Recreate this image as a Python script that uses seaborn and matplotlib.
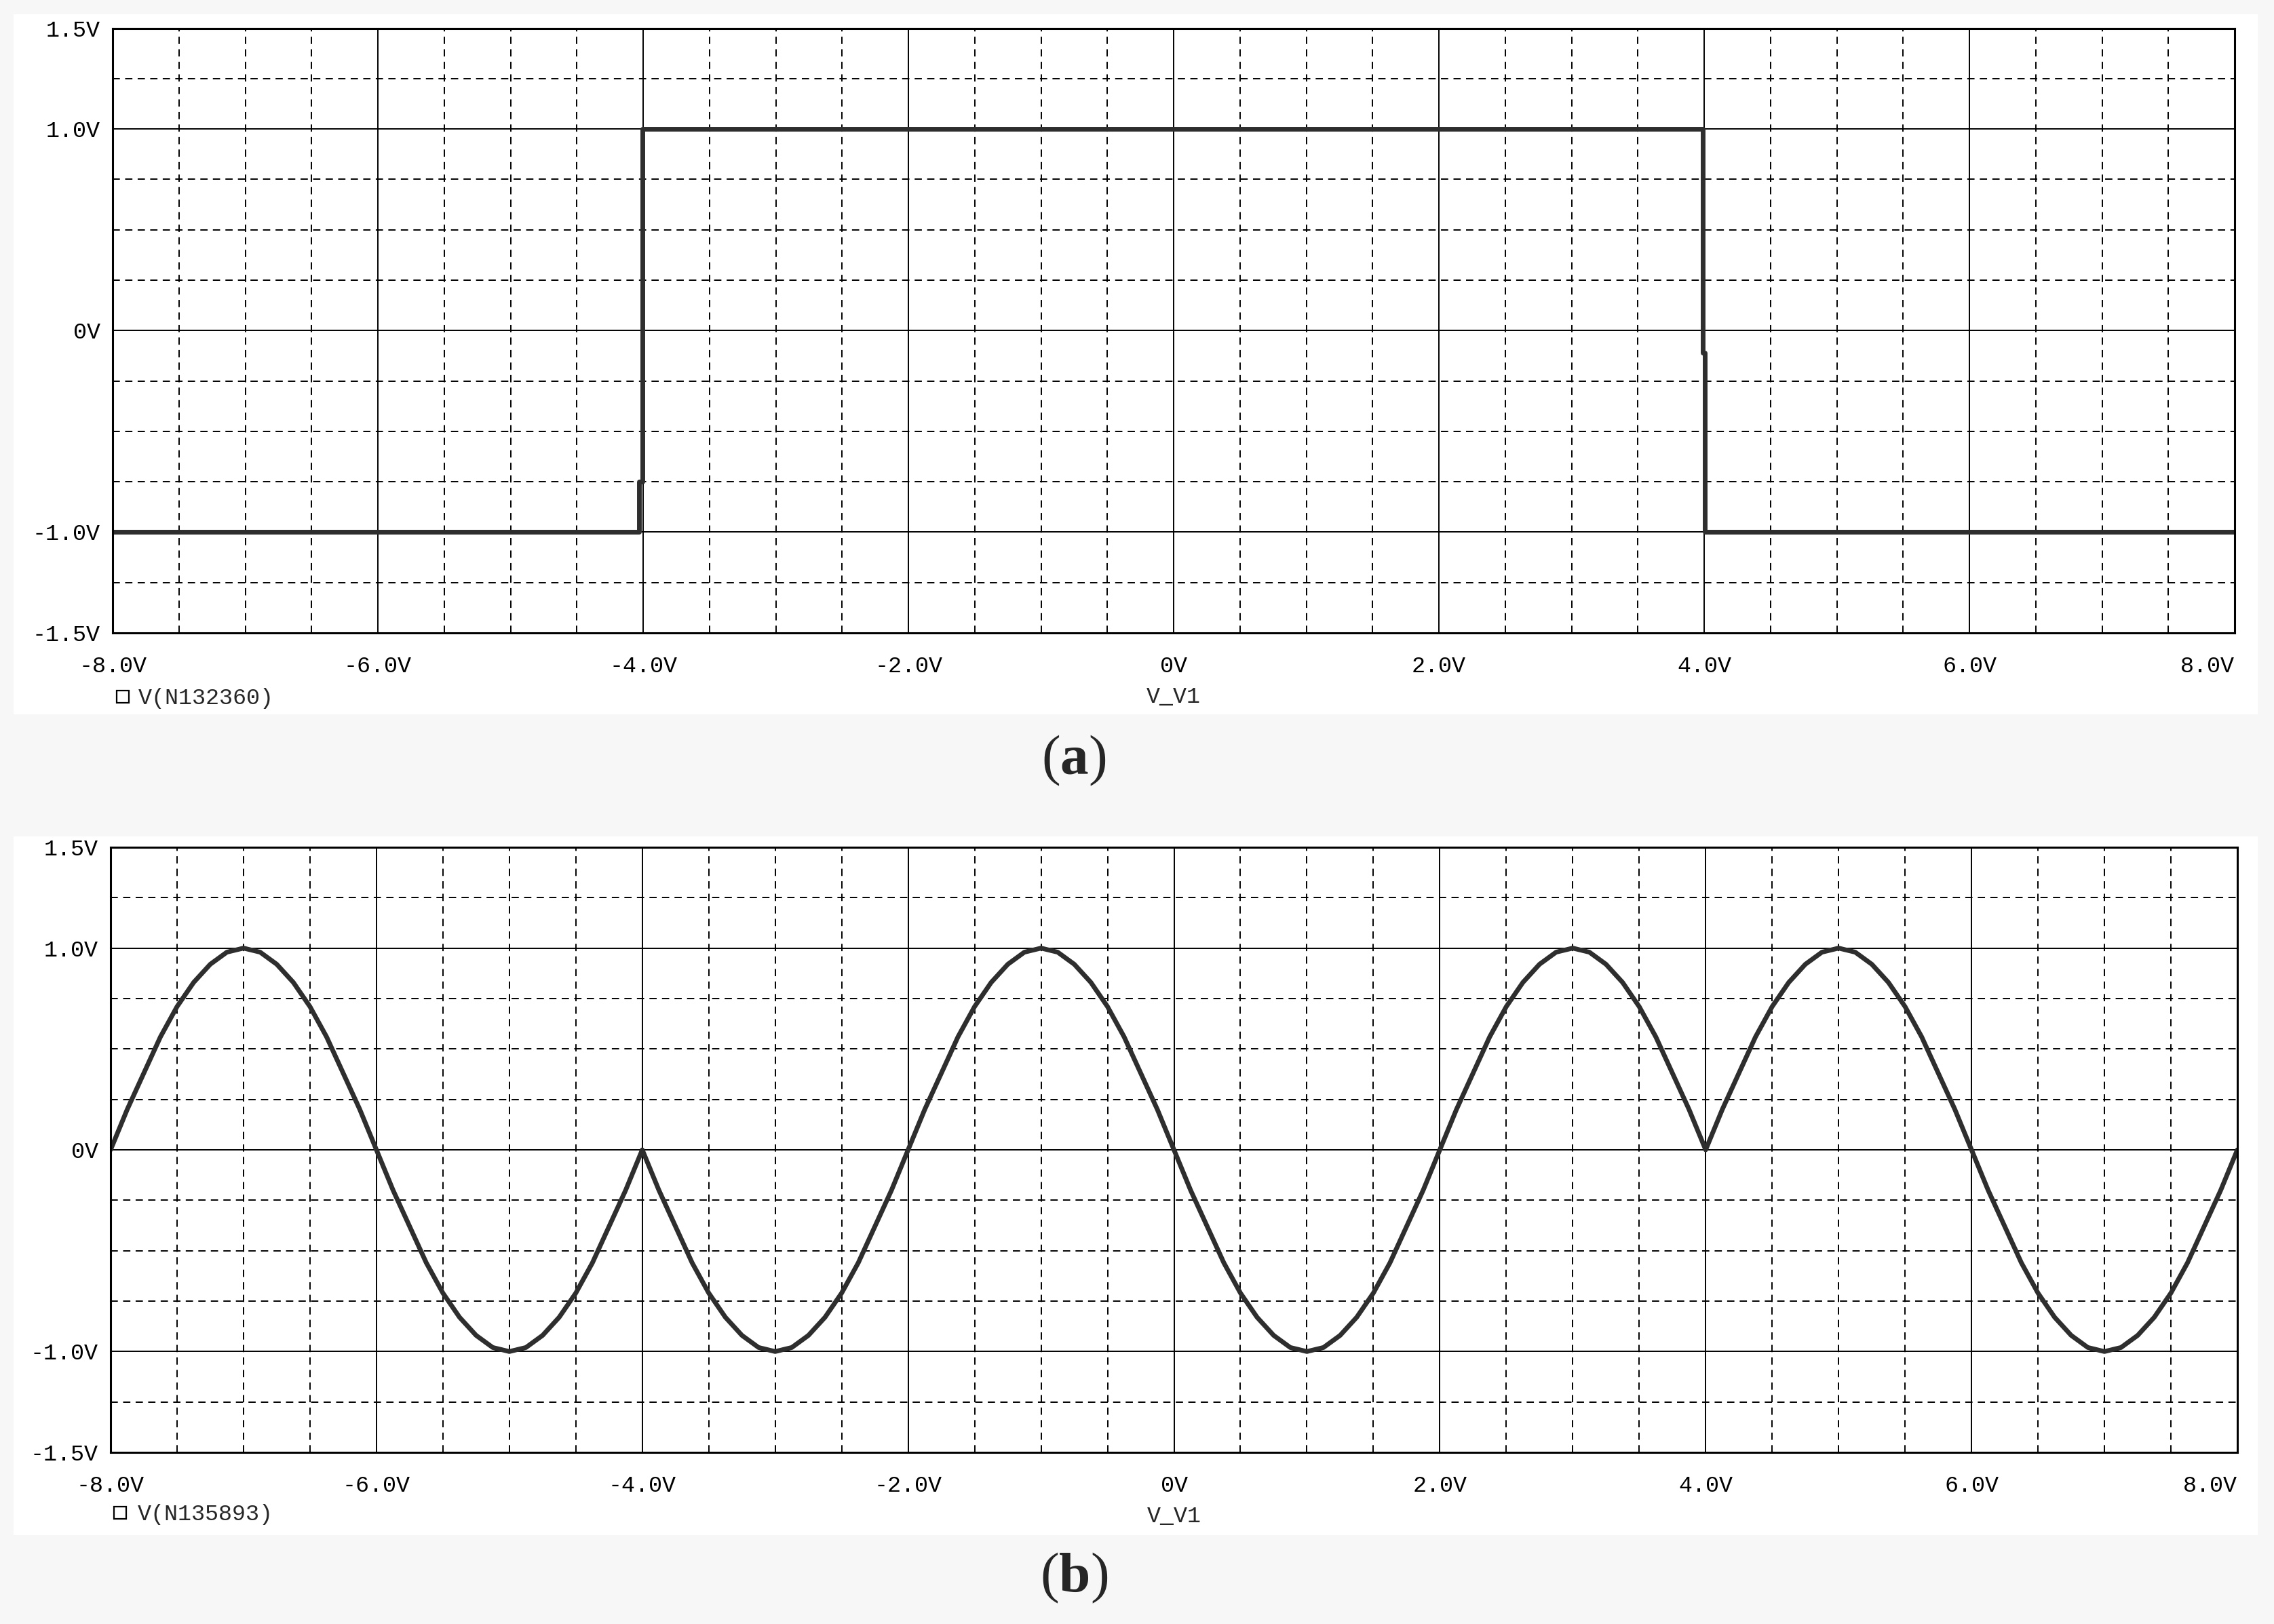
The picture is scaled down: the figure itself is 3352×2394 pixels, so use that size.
import numpy as np
import pandas as pd
import seaborn as sns
import matplotlib.pyplot as plt
from matplotlib.lines import Line2D
from matplotlib.patches import Rectangle

# panel (a): square wave
sq_x = [-8.0, -4.03, -4.03, -4.005, -4.005, 3.99, 3.99, 4.005, 4.005, 8.0]
sq_y = [-1.0, -1.0, -0.75, -0.75, 1.0, 1.0, -0.11, -0.11, -1.0, -1.0]

# panel (b): sine-like trace, values read every 0.125 V
sin_x = [-8.0 + 0.125 * i for i in range(129)]
sin_y = [
    0.0, 0.20, 0.38, 0.56, 0.71, 0.83, 0.92, 0.98,           # -8 .. -7
    1.0, 0.98, 0.92, 0.83, 0.71, 0.56, 0.38, 0.20,           # -7 .. -6
    0.0, -0.20, -0.38, -0.56, -0.71, -0.83, -0.92, -0.98,    # -6 .. -5
    -1.0, -0.98, -0.92, -0.83, -0.71, -0.56, -0.38, -0.20,   # -5 .. -4
    0.0, -0.20, -0.38, -0.56, -0.71, -0.83, -0.92, -0.98,    # -4 .. -3
    -1.0, -0.98, -0.92, -0.83, -0.71, -0.56, -0.38, -0.20,   # -3 .. -2
    0.0, 0.20, 0.38, 0.56, 0.71, 0.83, 0.92, 0.98,           # -2 .. -1
    1.0, 0.98, 0.92, 0.83, 0.71, 0.56, 0.38, 0.20,           # -1 .. 0
    0.0, -0.20, -0.38, -0.56, -0.71, -0.83, -0.92, -0.98,    # 0 .. 1
    -1.0, -0.98, -0.92, -0.83, -0.71, -0.56, -0.38, -0.20,   # 1 .. 2
    0.0, 0.20, 0.38, 0.56, 0.71, 0.83, 0.92, 0.98,           # 2 .. 3
    1.0, 0.98, 0.92, 0.83, 0.71, 0.56, 0.38, 0.20,           # 3 .. 4
    0.0, 0.20, 0.38, 0.56, 0.71, 0.83, 0.92, 0.98,           # 4 .. 5
    1.0, 0.98, 0.92, 0.83, 0.71, 0.56, 0.38, 0.20,           # 5 .. 6
    0.0, -0.20, -0.38, -0.56, -0.71, -0.83, -0.92, -0.98,    # 6 .. 7
    -1.0, -0.98, -0.92, -0.83, -0.71, -0.56, -0.38, -0.20,   # 7 .. 8
    0.0,
]

x_major = [-8, -6, -4, -2, 0, 2, 4, 6, 8]
x_major_labels = ['-8.0V', '-6.0V', '-4.0V', '-2.0V', '0V', '2.0V', '4.0V', '6.0V', '8.0V']
x_minor = [-7.5, -7, -6.5, -5.5, -5, -4.5, -3.5, -3, -2.5, -1.5, -1, -0.5,
           0.5, 1, 1.5, 2.5, 3, 3.5, 4.5, 5, 5.5, 6.5, 7, 7.5]
y_major = [-1.5, -1.0, 0.0, 1.0, 1.5]
y_major_labels = ['-1.5V', '-1.0V', '0V', '1.0V', '1.5V']
y_minor = [-1.25, -0.75, -0.5, -0.25, 0.25, 0.5, 0.75, 1.25]

sns.set_style('white')
plt.rcParams['font.family'] = ['Liberation Mono', 'DejaVu Sans Mono']
plt.rcParams['mathtext.fontset'] = 'custom'
plt.rcParams['mathtext.rm'] = 'Liberation Serif'
plt.rcParams['mathtext.bf'] = 'Liberation Serif:bold'

W, H = 3352, 2394
fig = plt.figure(figsize=(W / 100, H / 100), dpi=100)
fig.patch.set_facecolor('#f7f7f7')

trace_color = '#2e2e2e'


def setup_axes(ax, legend_name, leg_xy, textpad):
    ax.set_facecolor('white')
    ax.set_xlim(-8, 8)
    ax.set_ylim(-1.5, 1.5)
    ax.set_xticks(x_major)
    ax.set_xticklabels(x_major_labels)
    ax.set_xticks(x_minor, minor=True)
    ax.set_yticks(y_major)
    ax.set_yticklabels(y_major_labels)
    ax.set_yticks(y_minor, minor=True)
    ax.get_xticklabels()[-1].set_horizontalalignment('right')
    ax.tick_params(axis='x', which='major', direction='out', length=9.5, width=1.5,
                   pad=15, labelsize=24, colors='black')
    ax.tick_params(axis='y', which='major', direction='out', length=11.5, width=1.5,
                   pad=1.5, labelsize=24, colors='black')
    ax.tick_params(which='minor', length=0)
    ax.grid(which='major', color='black', lw=1.4, ls='-')
    ax.grid(which='minor', color='black', lw=1.4, ls=(0, (5.5, 4)))
    ax.set_axisbelow(True)
    for sp in ax.spines.values():
        sp.set_color('black')
        sp.set_linewidth(2.2)
    ax.set_xlabel('V_V1', fontsize=24, labelpad=10)
    ax.set_ylabel('')
    handle = Line2D([], [], ls='none', marker='s', markersize=13, mfc='white',
                    mec='black', mew=1.6)
    ax.legend([handle], [legend_name], loc='center left', bbox_to_anchor=leg_xy,
              frameon=False, fontsize=24, handlelength=1.0, handletextpad=textpad,
              borderpad=0, borderaxespad=0)


# white panels behind the two plots
fig.add_artist(Rectangle((20 / W, 1 - 1053 / H), 3308 / W, 1032 / H,
                         transform=fig.transFigure, facecolor='white',
                         edgecolor='none', zorder=-5))
fig.add_artist(Rectangle((20 / W, 1 - 2263 / H), 3308 / W, 1030 / H,
                         transform=fig.transFigure, facecolor='white',
                         edgecolor='none', zorder=-5))

ax1 = fig.add_axes([166 / W, 1 - 933 / H, 3128 / W, 891.5 / H])
sns.lineplot(x=sq_x, y=sq_y, ax=ax1, estimator=None, sort=False,
             color=trace_color, lw=5)
setup_axes(ax1, 'V(N132360)', (-0.0006, -0.1088), 0.2)

ax2 = fig.add_axes([163 / W, 1 - 2141 / H, 3135 / W, 892 / H])
sns.lineplot(x=sin_x, y=sin_y, ax=ax2, estimator=None, sort=False,
             color=trace_color, lw=5)
setup_axes(ax2, 'V(N135893)', (-0.001, -0.1031), 0.3)

fig.text(1583 / W, 1 - 1121 / H, r'$\mathrm{(}\mathbf{a}\mathrm{)}$',
         fontsize=60, ha='center', va='center')
fig.text(1583 / W, 1 - 2326 / H, r'$\mathrm{(}\mathbf{b}\mathrm{)}$',
         fontsize=60, ha='center', va='center')

fig.savefig('out.png', dpi=100, facecolor=fig.get_facecolor())
